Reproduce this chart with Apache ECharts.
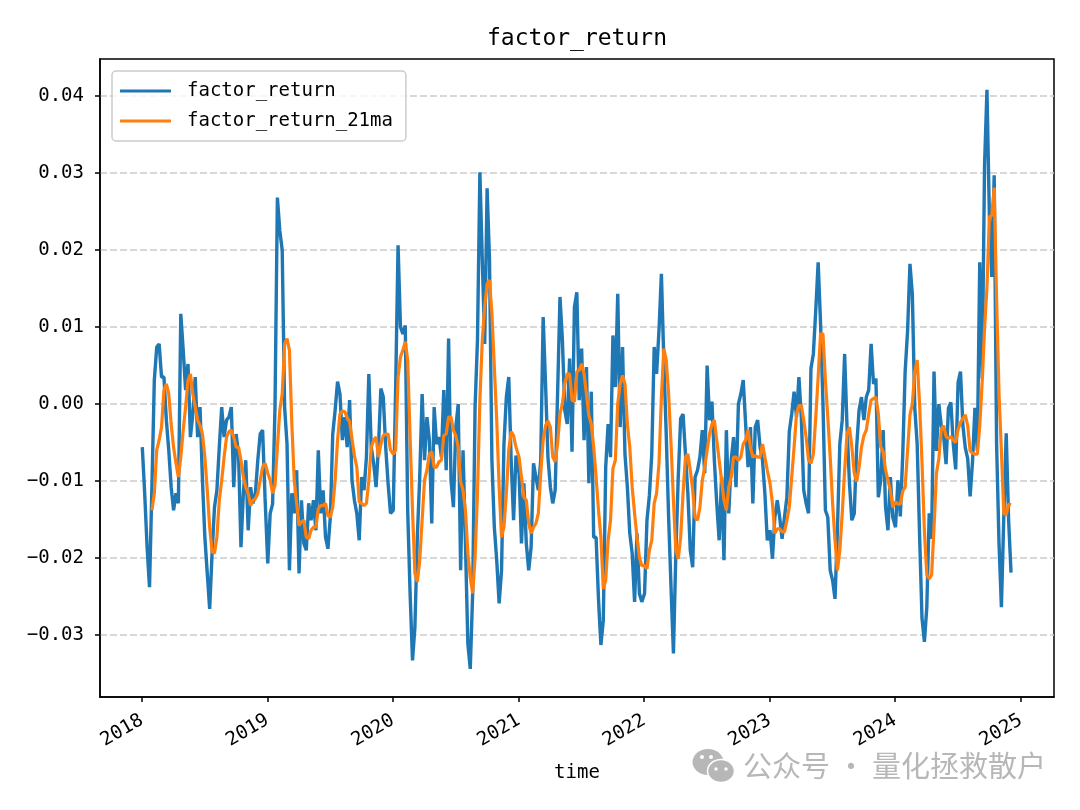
<!DOCTYPE html>
<html><head><meta charset="utf-8">
<style>html,body{margin:0;padding:0;background:#fff}#c{width:1080px;height:810px}</style>
<script src="https://cdn.jsdelivr.net/npm/echarts@6/dist/echarts.min.js"></script>
</head><body><div id="c"></div>
<script>
const years = [2018,2019,2020,2021,2022,2023,2024];
const yearTicks = [2018,2019,2020,2021,2022,2023,2024,2025];
const yTicks = [-0.03,-0.02,-0.01,0,0.01,0.02,0.03,0.04];

const factor2018 = [-.0056,-.0116,-.0186,-.0238,-.0108,.0031,.0074,.0078,.0035,.0035,-.0021,-.006,-.0108,-.0138,-.0116,-.0129,.0117,.007,.0018,.0052,-.0043,-.0013,.0035,-.0043,-.0004,-.0099,-.0173,-.022,-.0266,-.0194,-.0134,-.0112,-.0056,-.0004,-.0043,-.0021,-.0017,-.0004,-.0108,-.0039,-.0065,-.0186,-.0116,-.0073,-.0164,-.0108,-.0129,-.0116,-.0073,-.0039,-.0034,-.0121];
const factor2019 = [-.0207,-.0142,-.013,-.0005,.0268,.0225,.02,-.0004,-.0052,-.0216,-.0116,-.0142,-.0086,-.022,-.0125,-.0181,-.019,-.0129,-.0151,-.0125,-.0164,-.006,-.0142,-.0112,-.0173,-.0188,-.0147,-.0039,-.0008,.0029,.0013,-.0047,-.0017,-.0056,.0005,-.0099,-.0125,-.0142,-.0177,-.0095,-.0112,-.0069,.0039,-.0056,-.0077,-.0108,-.0056,.002,.0009,-.0056,-.0103,-.0142];
const factor2020 = [-.0138,.0022,.0206,.01,.0091,.0102,-.0138,-.0246,-.0333,-.029,-.0173,-.0095,.0013,-.0073,-.0017,-.0047,-.0155,-.0004,-.0052,-.0043,-.0069,.0018,-.0086,.0085,-.0099,-.0134,-.003,0,-.0216,-.006,-.0181,-.0311,-.0344,-.0246,-.0004,.0083,.0301,.0187,.0078,.028,.0187,-.0073,-.016,-.0203,-.0259,-.0216,-.0052,.0009,.0035,-.0073,-.0151,-.0067];
const factor2021 = [-.009,-.0181,-.0103,-.0181,-.0216,-.0186,-.0077,-.0095,-.0112,-.0073,.0113,.0026,-.0069,-.0108,-.0129,-.0112,.0013,.0139,.0083,-.0008,-.0026,.0059,-.0062,.0126,.0145,.0005,.0072,-.0047,.0048,-.0103,.0016,-.0173,-.0173,-.0253,-.0313,-.0281,-.0082,-.0026,-.0069,.0089,.0022,.0143,-.003,.0074,-.0065,-.0108,-.0168,-.0194,-.0257,-.0168,-.0246,-.0257];
const factor2022 = [-.0246,-.0151,-.0119,-.0065,.0074,.0039,.0096,.0169,.0057,-.0039,-.0147,-.0238,-.0324,-.0194,-.0095,-.0019,-.0013,-.0065,-.0116,-.019,-.0212,-.0095,-.0086,-.0069,-.0034,-.009,.005,-.0021,.0003,-.0073,-.0129,-.0177,-.0095,-.0203,-.0034,-.0142,-.0073,-.0043,-.0108,0,.0013,.0031,-.0026,-.0082,-.003,-.0129,-.003,-.0021,-.0056,-.0073,-.0116,-.0177];
const factor2023 = [-.0164,-.0201,-.0147,-.0125,-.0147,-.0175,-.0147,-.0121,-.0036,-.0013,.0016,-.0017,.0035,-.0017,-.0112,-.0129,-.0142,.0046,.0065,.0122,.0184,.0104,0,-.0138,-.0147,-.0216,-.0229,-.0253,-.0164,-.0052,-.0021,.0065,-.003,-.0103,-.0151,-.0142,-.0056,-.0008,.0009,-.0021,.0009,.0018,.0078,.0026,.0033,-.0121,-.0099,-.0034,-.0134,-.0164,-.0095,-.0147];
const factor2024 = [-.016,-.0099,-.0146,-.0066,.0042,.0094,.0182,.0142,-.0005,-.0052,-.017,-.0278,-.0309,-.0264,-.0142,-.0175,.0042,-.0061,0,-.0028,-.0042,-.0078,-.0005,.0002,-.0052,-.0085,.0028,.0042,-.0028,-.0057,-.0071,-.012,-.0075,-.0005,-.0061,.0184,.0033,.0311,.0408,.0245,.0165,.0297,-.0052,-.018,-.0264,-.0146,-.0038,-.0151,-.0219];

const ma2018 = [null,null,null,null,-.0138,-.0116,-.006,-.0047,-.003,.0018,.0026,.0013,-.0026,-.0056,-.0077,-.0095,-.0069,-.0034,-.0004,.0031,.0039,.0013,-.0004,-.0021,-.0028,-.0039,-.0069,-.0112,-.016,-.0192,-.0194,-.0173,-.0125,-.0099,-.0069,-.0043,-.0036,-.0034,-.0043,-.0056,-.0056,-.0073,-.0095,-.0108,-.0116,-.0132,-.0125,-.0123,-.0116,-.0099,-.0082,-.0077];
const ma2019 = [-.009,-.0099,-.0116,-.0106,-.0056,-.0008,.0013,.0078,.0085,.007,-.0026,-.0099,-.0129,-.0158,-.0153,-.0151,-.0173,-.0175,-.0164,-.016,-.016,-.0136,-.0132,-.0132,-.0129,-.0145,-.0147,-.0134,-.0099,-.0047,-.0013,-.0009,-.001,-.0018,-.0023,-.0045,-.0067,-.0082,-.0127,-.0129,-.0132,-.0129,-.0099,-.0056,-.0047,-.0043,-.0069,-.0052,-.0041,-.0039,-.0039,-.006];
const ma2020 = [-.0065,-.006,.0035,.0061,.007,.0081,.0057,-.0043,-.0138,-.022,-.0231,-.0203,-.0151,-.0099,-.0086,-.0065,-.0062,-.0082,-.0082,-.0075,-.0073,-.0041,-.0039,-.0017,-.0017,-.0034,-.0041,-.0056,-.0101,-.0112,-.0138,-.0194,-.0225,-.0246,-.0199,-.0116,.0005,.0083,.0126,.0156,.0161,.0117,.0048,-.0021,-.0108,-.0173,-.016,-.0116,-.006,-.0036,-.0041,-.0056];
const ma2021 = [-.0069,-.0095,-.0121,-.0125,-.0155,-.0168,-.016,-.0155,-.0142,-.009,-.0047,-.0028,-.0022,-.003,-.0069,-.0075,-.0052,-.0013,0,.0026,.0039,.0039,.0005,.0003,.0042,.0044,.0052,.0039,.0013,-.0015,-.0026,-.0056,-.0095,-.0138,-.0173,-.024,-.0229,-.0177,-.0151,-.0084,-.0073,0,.0026,.0037,.0026,-.0026,-.0056,-.0108,-.0142,-.0173,-.0199,-.021];
const ma2022 = [-.021,-.0214,-.019,-.0177,-.0129,-.0116,-.0077,.0009,.0072,.0057,.0013,-.0052,-.0125,-.019,-.0201,-.0173,-.0116,-.0069,-.0065,-.0086,-.0112,-.0147,-.0151,-.0134,-.0099,-.0082,-.006,-.0039,-.0026,-.0021,-.0047,-.0073,-.0099,-.0125,-.0138,-.0108,-.0095,-.0069,-.0069,-.0073,-.0069,-.0052,-.0047,-.0034,-.0056,-.0069,-.0067,-.0069,-.0069,-.0052,-.0069,-.0086];
const ma2023 = [-.0103,-.0129,-.0168,-.0162,-.0162,-.0166,-.0166,-.0151,-.0134,-.0095,-.0056,-.0013,-.0002,-.0002,-.0021,-.0043,-.0073,-.0077,-.0065,-.0017,.0035,.0091,.0091,.0031,-.0017,-.0069,-.0129,-.0177,-.0216,-.019,-.0142,-.0086,-.0039,-.003,-.0056,-.009,-.0101,-.0082,-.0056,-.0041,-.0034,-.0013,.0005,.0007,.0009,-.0013,-.0056,-.0062,-.0086,-.0099,-.0112,-.0134];
const ma2024 = [-.0127,-.013,-.013,-.0113,-.0108,-.0061,-.0014,0,.0042,.0057,0,-.0075,-.0165,-.0222,-.0227,-.0222,-.016,-.009,-.0071,-.0033,-.0028,-.0042,-.0045,-.0042,-.0047,-.005,-.0033,-.0024,-.0019,-.0014,-.0028,-.0061,-.0064,-.0065,-.0065,-.0028,.0028,.0099,.0151,.0243,.0245,.0281,.0137,.0014,-.0061,-.0142,-.0144,-.013,-.0131];

const factorByYear = [factor2018,factor2019,factor2020,factor2021,factor2022,factor2023,factor2024];
const maByYear = [ma2018,ma2019,ma2020,ma2021,ma2022,ma2023,ma2024];
const weekly = (lists) => lists.flatMap((vals, y) =>
  vals.map((v, k) => [Date.UTC(years[y], 0, 2 + 7 * k), v]));

const MONO = '"DejaVu Sans Mono", monospace';
const CJK = '"Noto Sans CJK SC", sans-serif';
const GREY = '#b7b7b7';

const chart = echarts.init(document.getElementById('c'), null, {renderer:'canvas'});
chart.setOption({
  animation: false,
  backgroundColor: '#fff',
  textStyle: {fontFamily: MONO},
  title: {
    text: 'factor_return', left: 572, top: 23, textAlign: 'center',
    textStyle: {fontFamily: MONO, fontSize: 23, fontWeight: 'normal', color: '#000'}
  },
  legend: {
    left: 112, top: 71, orient: 'vertical', icon: 'rect',
    padding: [10, 13, 10, 8], itemGap: 10, itemWidth: 51, itemHeight: 3,
    backgroundColor: 'rgba(255,255,255,0.8)',
    borderColor: '#cccccc', borderWidth: 1.5, borderRadius: 4,
    textStyle: {fontFamily: MONO, fontSize: 19, lineHeight: 20, color: '#000', padding: [0,0,0,11]},
    data: ['factor_return', 'factor_return_21ma']
  },
  grid: {left: 100, top: 59, width: 954, height: 638, show: true, borderColor: '#000', borderWidth: 1.5, backgroundColor: 'transparent'},
  xAxis: {
    type: 'value', scale: true,
    min: Date.UTC(2017, 8, 1), max: Date.UTC(2025, 3, 7),
    name: 'time', nameLocation: 'middle', nameGap: 67,
    nameTextStyle: {fontFamily: MONO, fontSize: 19, color: '#000'},
    axisLine: {show: true, onZero: false, lineStyle: {color: '#000', width: 1.5}},
    axisTick: {show: true, length: 5, lineStyle: {color: '#000', width: 1.5},
      customValues: yearTicks.map(y => Date.UTC(y, 0, 1))},
    axisLabel: {
      rotate: 30, margin: 22, fontFamily: MONO, fontSize: 19, color: '#000',
      customValues: yearTicks.map(y => Date.UTC(y, 0, 1)),
      formatter: v => String(new Date(v).getUTCFullYear())
    },
    splitLine: {show: false}
  },
  yAxis: {
    type: 'value',
    min: -0.03805, max: 0.0448,
    axisLine: {show: true, onZero: false, lineStyle: {color: '#000', width: 1.5}},
    axisTick: {show: true, length: 5, lineStyle: {color: '#000', width: 1.5}, customValues: yTicks},
    axisLabel: {
      margin: 16, fontFamily: MONO, fontSize: 19, color: '#000',
      customValues: yTicks,
      formatter: v => (v < 0 ? '\u2212' : '') + Math.abs(v).toFixed(2)
    },
    splitLine: {show: true, lineStyle: {color: '#cccccc', type: [7, 3], width: 1.5}}
  },
  series: [
    {name: 'factor_return', type: 'line', data: weekly(factorByYear), symbol: 'none', showSymbol: false,
      lineStyle: {color: '#1f77b4', width: 3.4}, itemStyle: {color: '#1f77b4'}, z: 3},
    {name: 'factor_return_21ma', type: 'line', data: weekly(maByYear), symbol: 'none', showSymbol: false,
      lineStyle: {color: '#ff7f0e', width: 3.2}, itemStyle: {color: '#ff7f0e'}, z: 4}
  ],
  graphic: [
    {type: 'text', left: 743, top: 751, z: 10, style: {text: '公众号 · 量化拯救散户', fontFamily: CJK, fontSize: 29, fill: GREY}},
    {type: 'ellipse', z: 10, shape: {cx: 708, cy: 762, rx: 15.5, ry: 13}, style: {fill: GREY}},
    {type: 'ellipse', z: 11, shape: {cx: 721, cy: 771, rx: 13.5, ry: 11.5}, style: {fill: GREY, stroke: '#fff', lineWidth: 1.5}},
    {type: 'circle', z: 12, shape: {cx: 702, cy: 757, r: 2}, style: {fill: '#fff'}},
    {type: 'circle', z: 12, shape: {cx: 711, cy: 757, r: 2}, style: {fill: '#fff'}},
    {type: 'circle', z: 12, shape: {cx: 716, cy: 769, r: 1.7}, style: {fill: '#fff'}},
    {type: 'circle', z: 12, shape: {cx: 726, cy: 769, r: 1.7}, style: {fill: '#fff'}}
  ]
});
</script></body></html>
